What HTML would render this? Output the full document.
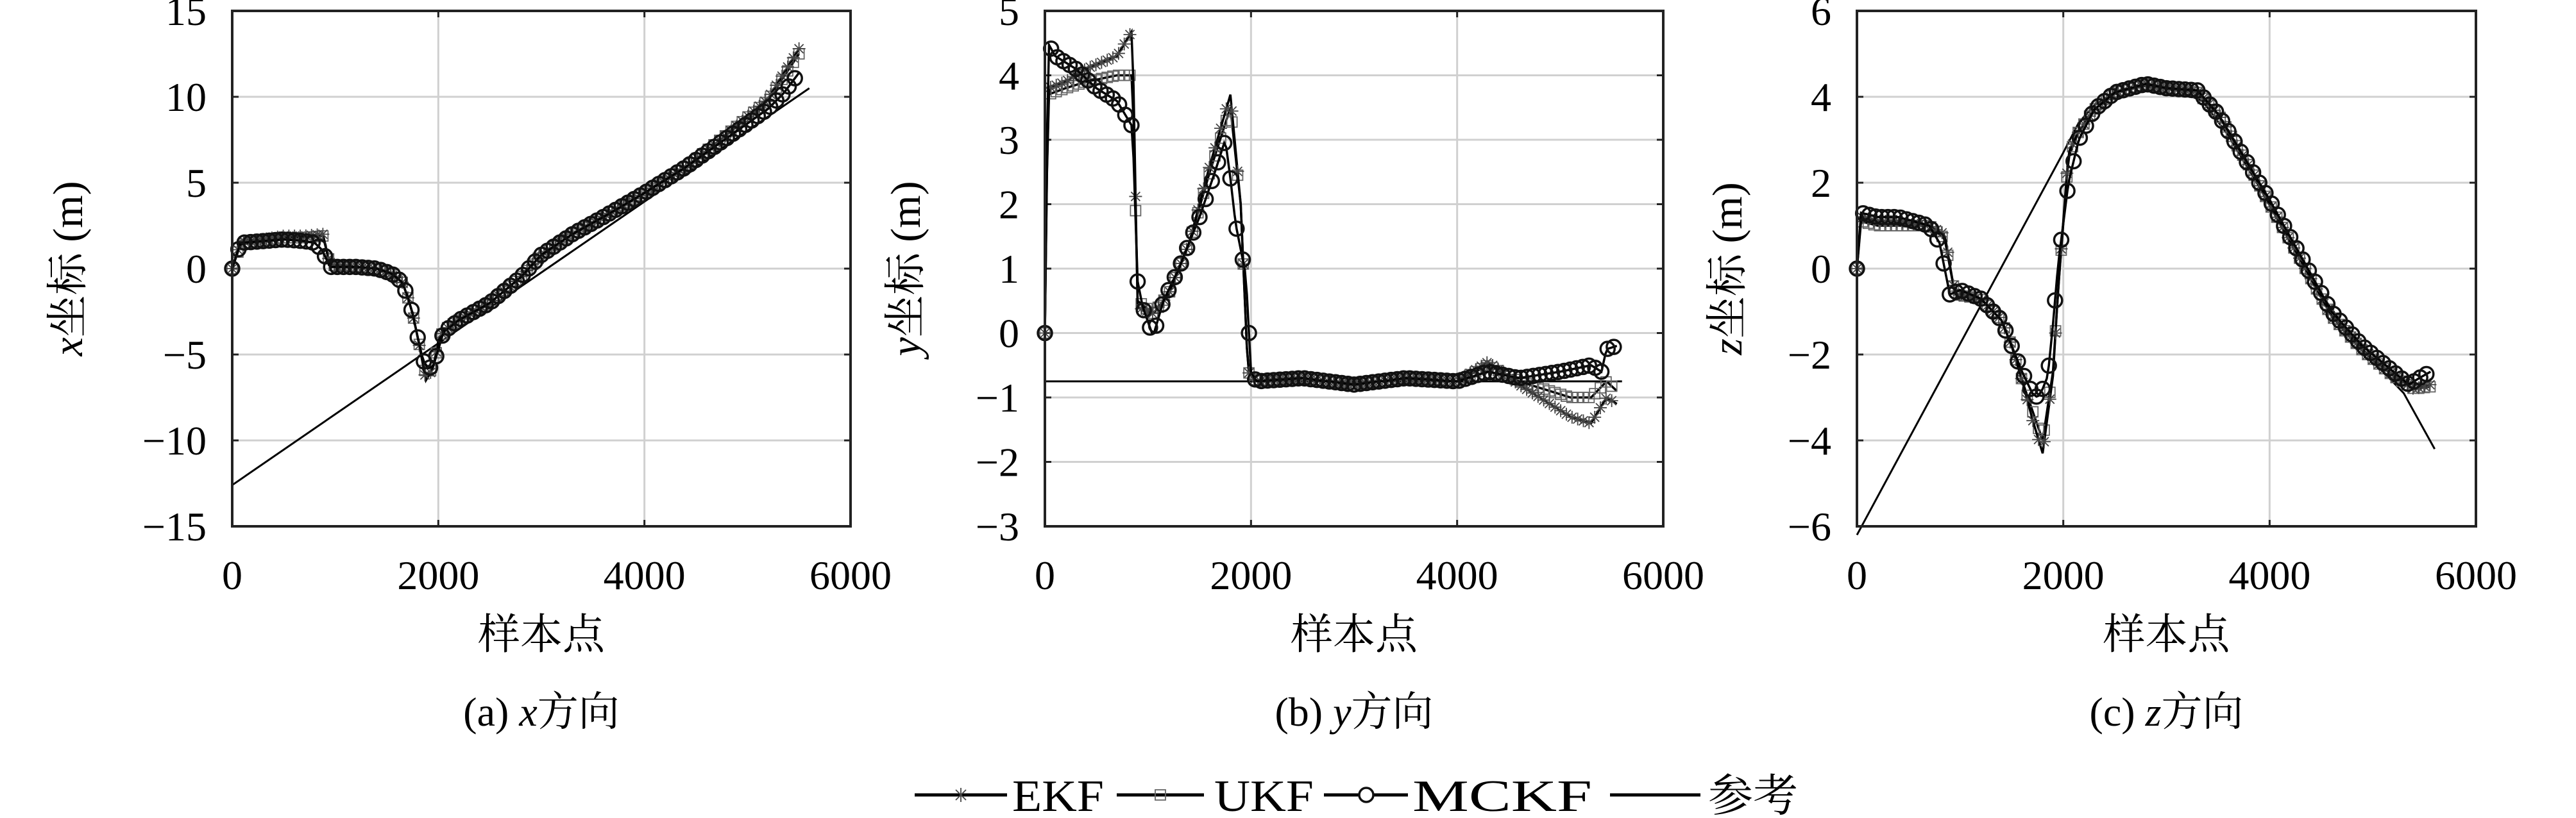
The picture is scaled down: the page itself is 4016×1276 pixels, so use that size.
<!DOCTYPE html>
<html><head><meta charset="utf-8">
<style>
html,body{margin:0;padding:0;background:#fff;}
svg{display:block;}
text{font-family:"Liberation Serif","Noto Serif CJK SC",serif;fill:#000;}
</style></head>
<body>
<svg id="s" width="4016" height="1276" viewBox="0 0 4016 1276" xmlns="http://www.w3.org/2000/svg"></svg>
<script>
const S=document.getElementById('s');
let out='';
const panels=[
 {L:362,R:1326,ymin:-15,ymax:15,step:5,lab:'x',labX:128,
  ref:[[0,-12.6],[5600,10.5]],
  mc:[[0,0],[80,1.5],[300,1.6],[500,1.7],[700,1.6],[800,1.5],[870,1.1],[950,0.1],[1200,0.1],[1400,0],[1550,-0.3],[1650,-0.8],[1700,-1.6],[1750,-2.6],[1800,-4],[1850,-5.3],[1900,-5.8],[1950,-5.7],[2000,-4.7],[2050,-3.7],[2200,-3],[2500,-2],[2800,-0.5],[3000,0.8],[3300,2],[3600,3],[4000,4.4],[4400,5.9],[4800,7.6],[5200,9.3],[5350,10.2],[5500,11.4]],
  ek:[[0,0],[80,1.6],[300,1.7],[500,1.9],[700,1.9],[880,2],[950,0.2],[1200,0.1],[1400,0],[1550,-0.3],[1650,-0.8],[1700,-1.6],[1750,-2.6],[1800,-4],[1880,-6.5],[1950,-5.8],[2000,-4.2],[2050,-3.6],[2200,-3],[2500,-2],[2800,-0.5],[3000,0.8],[3300,2],[3600,3],[4000,4.4],[4400,5.9],[4800,7.8],[5200,9.9],[5500,12.8]],
  uk:[[0,0],[80,1.4],[300,1.6],[500,1.8],[700,1.8],[880,1.9],[950,0.2],[1200,0.1],[1400,0],[1550,-0.3],[1650,-0.8],[1700,-1.6],[1750,-2.6],[1800,-4],[1880,-6.2],[1950,-5.8],[2000,-4.3],[2050,-3.6],[2200,-3],[2500,-2],[2800,-0.5],[3000,0.8],[3300,2],[3600,3],[4000,4.4],[4400,5.9],[4800,7.8],[5200,9.8],[5500,12.5]]},
 {L:1629,R:2593,ymin:-3,ymax:5,step:1,lab:'y',labX:1434,
  ref:[[0,-0.75],[5600,-0.75]],
  mc:[[0,0],[30,4.5],[100,4.3],[300,4.1],[500,3.8],[700,3.6],[850,3.2],[900,0.8],[950,0.4],[1050,-0.05],[1150,0.5],[1300,1.0],[1500,1.8],[1650,2.5],[1750,3.0],[1800,2.4],[1850,1.7],[1950,0.9],[2000,-0.6],[2050,-0.75],[2500,-0.7],[3000,-0.8],[3500,-0.7],[4000,-0.75],[4300,-0.6],[4600,-0.7],[5000,-0.6],[5300,-0.5],[5400,-0.6],[5450,-0.25],[5550,-0.2]],
  ek:[[0,0],[30,3.8],[200,3.9],[400,4.1],[700,4.3],[850,4.7],[900,0.4],[1050,0.3],[1200,0.6],[1400,1.4],[1600,2.6],[1800,3.7],[1900,2.0],[1970,-0.6],[2050,-0.75],[2500,-0.7],[3000,-0.8],[3500,-0.7],[4000,-0.75],[4300,-0.45],[4600,-0.8],[4900,-1.1],[5100,-1.3],[5300,-1.4],[5450,-1.0],[5550,-1.1]],
  uk:[[0,0],[30,3.7],[200,3.8],[400,3.9],[700,4.0],[850,4.0],[900,0.5],[1050,0.3],[1200,0.6],[1400,1.4],[1600,2.5],[1800,3.5],[1900,2.0],[1970,-0.6],[2050,-0.75],[2500,-0.7],[3000,-0.8],[3500,-0.7],[4000,-0.75],[4300,-0.5],[4600,-0.75],[4900,-0.9],[5100,-1.0],[5300,-1.0],[5450,-0.75],[5550,-0.9]]},
 {L:2895,R:3860,ymin:-6,ymax:6,step:2,lab:'z',labX:2715,
  ref:[[0,-6.2],[2000,2.7],[2150,3.4],[2300,3.8],[2500,4.1],[2800,4.25],[3100,4.15],[3350,3.9],[3600,3.1],[3900,1.9],[4200,0.6],[4500,-0.6],[4800,-1.6],[5100,-2.4],[5300,-2.9],[5600,-4.2]],
  mc:[[0,0],[40,1.3],[200,1.2],[400,1.2],[700,1.0],[800,0.6],[900,-0.6],[1000,-0.5],[1200,-0.7],[1400,-1.2],[1500,-1.8],[1600,-2.4],[1700,-2.9],[1750,-3.0],[1800,-2.8],[1850,-2.5],[1900,-1.3],[1950,0.1],[2050,2.0],[2150,3.0],[2300,3.7],[2500,4.1],[2800,4.3],[3000,4.2],[3300,4.15],[3500,3.6],[3800,2.4],[4000,1.6],[4300,0.3],[4600,-1.0],[4900,-1.8],[5200,-2.4],[5350,-2.7],[5450,-2.55],[5560,-2.4]],
  ek:[[0,0],[40,1.2],[200,1.1],[400,1.1],[700,1.0],[850,0.8],[950,-0.6],[1200,-0.7],[1400,-1.2],[1500,-1.8],[1600,-2.6],[1700,-3.5],[1800,-4.3],[1900,-2.5],[1950,-0.5],[2050,2.7],[2150,3.2],[2300,3.7],[2500,4.1],[2800,4.3],[3000,4.2],[3300,4.1],[3500,3.6],[3800,2.4],[4000,1.5],[4300,0.2],[4600,-1.1],[4900,-1.9],[5200,-2.5],[5400,-2.8],[5560,-2.7]],
  uk:[[0,0],[40,1.1],[200,1.0],[400,1.0],[700,1.0],[850,0.7],[950,-0.6],[1200,-0.7],[1400,-1.2],[1500,-1.8],[1600,-2.6],[1700,-3.3],[1800,-4.0],[1900,-2.4],[1950,-0.5],[2050,2.6],[2150,3.2],[2300,3.7],[2500,4.1],[2800,4.3],[3000,4.2],[3300,4.1],[3500,3.6],[3800,2.4],[4000,1.5],[4300,0.2],[4600,-1.1],[4900,-1.9],[5200,-2.5],[5400,-2.8],[5560,-2.75]]}
];
const T=17,B=821;
const captions=['(a) ','(b) ','(c) '];
function interp(d,x){for(let i=1;i<d.length;i++){if(x<=d[i][0]){const a=d[i-1],b=d[i];const t=(x-a[0])/(b[0]-a[0]||1);return a[1]+t*(b[1]-a[1]);}}return d[d.length-1][1];}
panels.forEach((p,k)=>{
 const X=v=>p.L+(p.R-p.L)*v/6000;
 const Y=v=>B-(B-T)*(v-p.ymin)/(p.ymax-p.ymin);
 for(let v=2000;v<6000;v+=2000) out+=`<line x1="${X(v)}" y1="${T}" x2="${X(v)}" y2="${B}" stroke="#d0d0d0" stroke-width="3"/>`;
 for(let v=p.ymin+p.step;v<p.ymax;v+=p.step) out+=`<line x1="${p.L}" y1="${Y(v)}" x2="${p.R}" y2="${Y(v)}" stroke="#d0d0d0" stroke-width="3"/>`;
 for(let v=0;v<=6000;v+=2000){out+=`<line x1="${X(v)}" y1="${B}" x2="${X(v)}" y2="${B-10}" stroke="#222" stroke-width="3"/><line x1="${X(v)}" y1="${T}" x2="${X(v)}" y2="${T+10}" stroke="#222" stroke-width="3"/>`;
  out+=`<text x="${X(v)}" y="919" font-size="64" text-anchor="middle">${v}</text>`;}
 for(let v=p.ymin;v<=p.ymax;v+=p.step){out+=`<line x1="${p.L}" y1="${Y(v)}" x2="${p.L+10}" y2="${Y(v)}" stroke="#222" stroke-width="3"/><line x1="${p.R}" y1="${Y(v)}" x2="${p.R-10}" y2="${Y(v)}" stroke="#222" stroke-width="3"/>`;
  out+=`<text x="${p.L-40}" y="${Y(v)+22}" font-size="64" text-anchor="end">${v<0?'\u2212'+(-v):v}</text>`;}
 out+=`<polyline fill="none" stroke="#000" stroke-width="3" points="${p.ref.map(q=>X(q[0])+','+Y(q[1])).join(' ')}"/>`;
 const ser=[[p.uk,'uk'],[p.ek,'ek'],[p.mc,'mc']];
 ser.forEach(([d,t])=>{
  const pts=[];for(let x=0;x<=d[d.length-1][0];x+=20)pts.push(X(x)+','+Y(interp(d,x)));
  pts.push(X(d[d.length-1][0])+','+Y(d[d.length-1][1]));
  out+=`<polyline fill="none" stroke="#000" stroke-width="3.5" points="${pts.join(' ')}"/>`;
  const st=t=='mc'?60:55;
  for(let x=0;x<=d[d.length-1][0];x+=st){const cx=X(x),cy=Y(interp(d,x));
   if(t=='mc')out+=`<circle cx="${cx}" cy="${cy}" r="11" fill="none" stroke="#111" stroke-width="3.5"/>`;
   else if(t=='uk')out+=`<rect x="${cx-8}" y="${cy-8}" width="16" height="16" fill="none" stroke="#666" stroke-width="1.8"/>`;
   else out+=`<path d="M${cx-10} ${cy}H${cx+10}M${cx} ${cy-10}V${cy+10}M${cx-7} ${cy-7}L${cx+7} ${cy+7}M${cx-7} ${cy+7}L${cx+7} ${cy-7}" stroke="#444" stroke-width="1.8"/>`;}
 });
 out+=`<rect x="${p.L}" y="${T}" width="${p.R-p.L}" height="${B-T}" fill="none" stroke="#222" stroke-width="4"/>`;
 const cx=(p.L+p.R)/2;
 out+=`<text x="${cx}" y="1012" font-size="66" text-anchor="middle">样本点</text>`;
 out+=`<text x="${cx}" y="1132" font-size="64" text-anchor="middle">${captions[k]}<tspan font-style="italic">${p.lab}</tspan>方向</text>`;
 out+=`<text transform="translate(${p.labX},${(T+B)/2}) rotate(-90)" font-size="66" text-anchor="middle"><tspan font-style="italic">${p.lab}</tspan>坐标 (m)</text>`;
});
const ly=1240;
const LA='lengthAdjust="spacingAndGlyphs"';
out+=`<line x1="1426" y1="${ly}" x2="1570" y2="${ly}" stroke="#000" stroke-width="5"/><path d="M1498 ${ly-11}V${ly+11}M1490 ${ly-8}L1506 ${ly+8}M1490 ${ly+8}L1506 ${ly-8}" stroke="#444" stroke-width="1.8"/>`;
out+=`<text x="1578" y="${ly+25}" font-size="70" textLength="143" ${LA}>EKF</text>`;
out+=`<line x1="1741" y1="${ly}" x2="1877" y2="${ly}" stroke="#000" stroke-width="5"/><rect x="1801" y="${ly-8}" width="16" height="16" fill="none" stroke="#666" stroke-width="1.8"/>`;
out+=`<text x="1893" y="${ly+25}" font-size="70" textLength="155" ${LA}>UKF</text>`;
out+=`<line x1="2064" y1="${ly}" x2="2195" y2="${ly}" stroke="#000" stroke-width="5"/><circle cx="2130" cy="${ly}" r="11" fill="#fff" stroke="#111" stroke-width="3.5"/>`;
out+=`<text x="2202" y="${ly+25}" font-size="70" textLength="280" ${LA}>MCKF</text>`;
out+=`<line x1="2510" y1="${ly}" x2="2651" y2="${ly}" stroke="#000" stroke-width="5"/>`;
out+=`<text x="2663" y="${ly+25}" font-size="70">参考</text>`;
S.innerHTML=out;
</script>
</body></html>
